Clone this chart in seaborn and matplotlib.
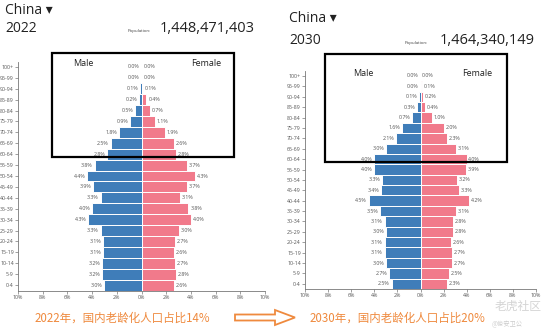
import matplotlib
matplotlib.use("Agg")
import matplotlib.pyplot as plt
import seaborn as sns
import pandas as pd
from matplotlib.patches import Rectangle, Polygon

ages = ["100+", "95-99", "90-94", "85-89", "80-84", "75-79", "70-74", "65-69", "60-64",
        "55-59", "50-54", "45-49", "40-44", "35-39", "30-34", "25-29", "20-24", "15-19",
        "10-14", "5-9", "0-4"]

male_2022 = [0.0, 0.0, 0.1, 0.2, 0.5, 0.9, 1.8, 2.5, 2.8, 3.8, 4.4, 3.9, 3.3, 4.0, 4.3, 3.3, 3.1, 3.1, 3.2, 3.2, 3.0]
female_2022 = [0.0, 0.0, 0.1, 0.4, 0.7, 1.1, 1.9, 2.6, 2.8, 3.7, 4.3, 3.7, 3.1, 3.8, 4.0, 3.0, 2.7, 2.6, 2.7, 2.8, 2.6]
male_2030 = [0.0, 0.0, 0.1, 0.3, 0.7, 1.6, 2.1, 3.0, 4.0, 4.0, 3.3, 3.4, 4.5, 3.5, 3.1, 3.0, 3.1, 3.1, 3.0, 2.7, 2.5]
female_2030 = [0.0, 0.1, 0.2, 0.4, 1.0, 2.0, 2.3, 3.1, 4.0, 3.9, 3.2, 3.3, 4.2, 3.1, 2.8, 2.8, 2.6, 2.7, 2.7, 2.5, 2.3]

x_ticks = [-10, -8, -6, -4, -2, 0, 2, 4, 6, 8, 10]
x_tick_labels = ["10%", "8%", "6%", "4%", "2%", "0%", "2%", "4%", "6%", "8%", "10%"]

years = ["2022", "2030"]
populations = ["1,448,471,403", "1,464,340,149"]
notes = ["2022年，国内老龄化人口占比14%", "2030年，国内老龄化人口占比20%"]

BLUE = "#3f7db9"
PINK = "#f17a8b"
ORANGE = "#ef8a3e"
GRAY = "#555555"

sns.set_style("white")
plt.rcParams['font.family'] = ['Open Sans', 'Noto Sans CJK SC', 'DejaVu Sans']

W, H = 549, 333
fig = plt.figure(figsize=(W / 100, H / 100), dpi=100)


def px_axes(x0, x1, ytop, ybot):
    return fig.add_axes([x0 / W, 1 - ybot / H, (x1 - x0) / W, (ybot - ytop) / H])


def pyramid(ax, male, female):
    df = pd.DataFrame({
        "age": ages * 2,
        "value": [-m for m in male] + list(female),
        "sex": ["Male"] * len(ages) + ["Female"] * len(ages),
    })
    sns.barplot(data=df, x="value", y="age", hue="sex", order=ages, dodge=False,
                palette={"Male": BLUE, "Female": PINK}, width=1.0, saturation=1,
                edgecolor="white", linewidth=0.7, legend=False, ax=ax)
    for i, (m, f) in enumerate(zip(male, female)):
        ax.text(-m - 0.15, i, f"{m:.1f}%", ha="right", va="center", fontsize=3.8, color=GRAY)
        ax.text(f + 0.15, i, f"{f:.1f}%", ha="left", va="center", fontsize=3.8, color=GRAY)
    ax.set_xlim(-10, 10)
    ax.set_xticks(x_ticks)
    ax.set_xticklabels(x_tick_labels)
    ax.set_xlabel("")
    ax.set_ylabel("")
    ax.tick_params(axis="both", labelsize=3.8, labelcolor=GRAY, length=2, width=0.5,
                   color="#777777", pad=1)
    ax.tick_params(axis="x", bottom=True)
    ax.tick_params(axis="y", left=True)
    for s in ["top", "right"]:
        ax.spines[s].set_visible(False)
    for s in ["left", "bottom"]:
        ax.spines[s].set_color("#777777")
        ax.spines[s].set_linewidth(0.6)


ax1 = px_axes(18, 265, 61.5, 290.5)
pyramid(ax1, male_2022, female_2022)
ax2 = px_axes(305, 536, 70.8, 289)
pyramid(ax2, male_2030, female_2030)

# overlay in pixel coordinates
ov = fig.add_axes([0, 0, 1, 1], facecolor="none")
ov.set_xlim(0, W)
ov.set_ylim(H, 0)
ov.axis("off")

# headers
ov.text(5, 11, "China \u25be", fontsize=10, color="#222222", va="center", ha="left")
ov.text(5, 29, years[0], fontsize=10, color="#222222", va="center", ha="left")
ov.text(128, 31, "Population:", fontsize=3.2, color="#444444", va="center", ha="left")
ov.text(160, 29, populations[0], fontsize=10.5, color="#222222", va="center", ha="left")

ov.text(289, 19, "China \u25be", fontsize=10, color="#222222", va="center", ha="left")
ov.text(289, 41, years[1], fontsize=10, color="#222222", va="center", ha="left")
ov.text(405, 43, "Population:", fontsize=3.2, color="#444444", va="center", ha="left")
ov.text(440, 41, populations[1], fontsize=10.5, color="#222222", va="center", ha="left")

# Male / Female labels
ov.text(73, 64, "Male", fontsize=6.5, color="#222222", va="center", ha="left")
ov.text(191, 64, "Female", fontsize=6.5, color="#222222", va="center", ha="left")
ov.text(353, 74, "Male", fontsize=6.5, color="#222222", va="center", ha="left")
ov.text(462, 74, "Female", fontsize=6.5, color="#222222", va="center", ha="left")

# highlight boxes
ov.add_patch(Rectangle((52, 53), 182, 104, fill=False, edgecolor="black", linewidth=1.6, zorder=5))
ov.add_patch(Rectangle((325, 54), 182, 108, fill=False, edgecolor="black", linewidth=1.6, zorder=5))

# bottom notes
ov.text(35, 318, notes[0], fontsize=8.3, color=ORANGE, va="center", ha="left",
        family=['Noto Sans CJK SC', 'DejaVu Sans'])
ov.text(310, 318, notes[1], fontsize=8.3, color=ORANGE, va="center", ha="left",
        family=['Noto Sans CJK SC', 'DejaVu Sans'])

# hollow arrow
arrow = Polygon([(235, 314.5), (275, 314.5), (275, 310), (295, 317.5),
                 (275, 325), (275, 320.5), (235, 320.5)],
                closed=True, facecolor="white", edgecolor=ORANGE, linewidth=1.3)
ov.add_patch(arrow)

# watermark
ov.text(495, 306, "老虎社区", fontsize=8.5, color="#d4d4d4", va="center", ha="left",
        family=['Noto Sans CJK SC', 'DejaVu Sans'])
ov.text(492, 324, "@俊安卫公", fontsize=4.5, color="#cccccc", va="center", ha="left",
        family=['Noto Sans CJK SC', 'DejaVu Sans'])

fig.savefig("out.png", dpi=100)
